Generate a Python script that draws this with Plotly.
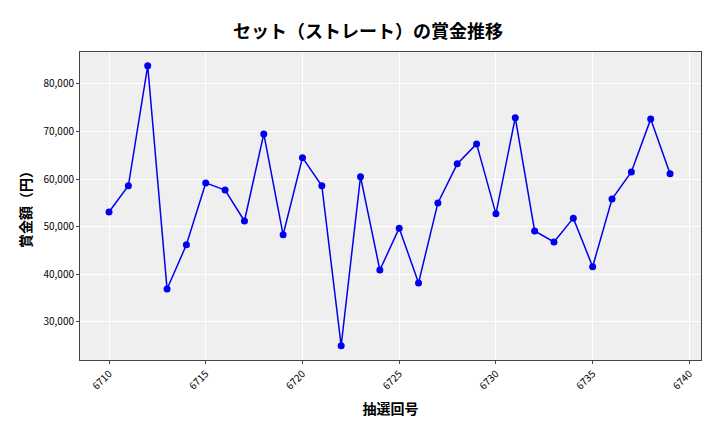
import plotly.graph_objs as go

draws = list(range(6710, 6740))
prizes = [53100, 58600, 83800, 36900, 46200, 59200, 57700, 51200, 69500, 48300,
          64500, 58600, 25000, 60500, 40900, 49700, 38200, 55000, 63200, 67400,
          52700, 72900, 49100, 46800, 51800, 41600, 55800, 61500, 72600, 61100]

font = "Noto Sans CJK JP"

fig = go.Figure(go.Scatter(
    x=draws, y=prizes, mode="lines+markers",
    line=dict(color="#0000EE", width=1.5),
    marker=dict(color="#0000EE", size=7),
))

fig.update_layout(
    width=720, height=432,
    margin=dict(l=72, r=27, t=44, b=80),
    paper_bgcolor="white", plot_bgcolor="#EFEFEF",
    font=dict(family=font, color="black", size=10),
    title=dict(text="<b>セット（ストレート）の賞金推移</b>", x=0.5, xanchor="center", y=0.96,
               font=dict(size=18, family=font)),
    showlegend=False,
)
fig.update_xaxes(
    title=dict(text="<b>抽選回号</b>", font=dict(size=14), standoff=12),
    range=[6708.5, 6740.6], tickvals=[6710, 6715, 6720, 6725, 6730, 6735, 6740],
    tickangle=-45, gridcolor="white", showline=True, linecolor="#444", mirror=True,
    ticks="outside", ticklen=3, zeroline=False,
)
fig.update_yaxes(
    title=dict(text="<b>賞金額（円）</b>", font=dict(size=14), standoff=8),
    range=[22000, 86700], tickvals=[30000, 40000, 50000, 60000, 70000, 80000],
    tickformat=",", gridcolor="white", showline=True, linecolor="#444", mirror=True,
    ticks="outside", ticklen=3, zeroline=False,
)

fig.write_html("out.html")
